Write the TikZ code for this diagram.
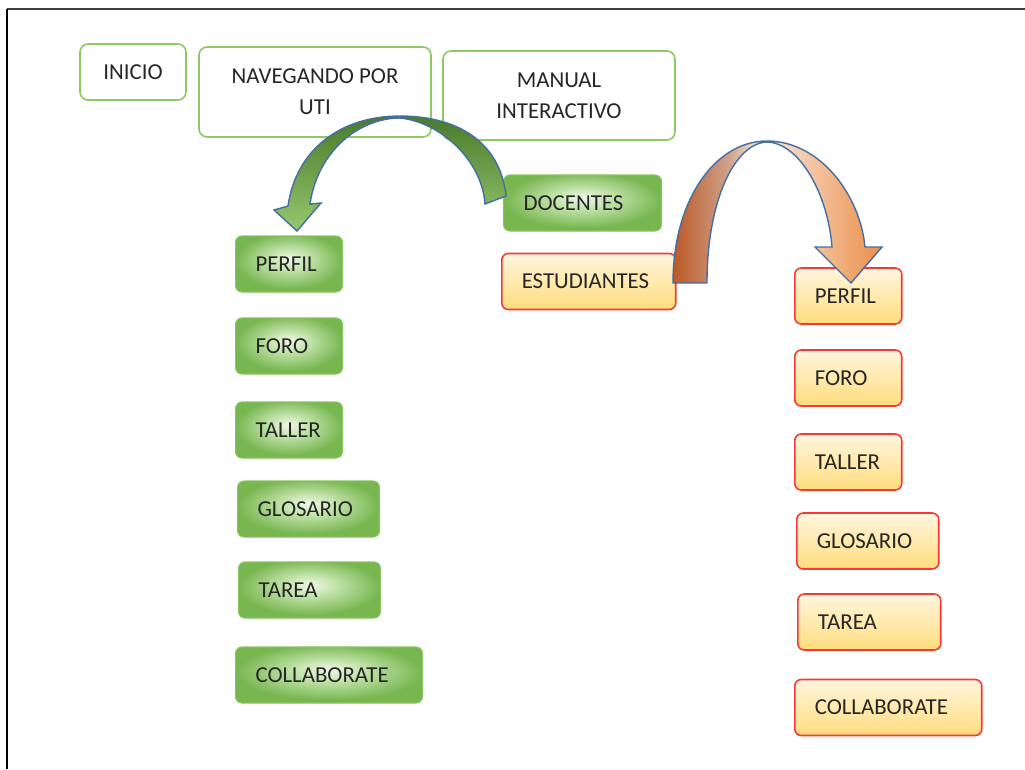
\documentclass[tikz,border=0pt]{standalone}
\usepackage{fontspec}
\setmainfont{Carlito}
\usepackage{tikz}
\usetikzlibrary{shapes, arrows.meta, positioning}

\definecolor{marco}{RGB}{60,60,60}
\definecolor{topverde}{RGB}{140,200,100}
\definecolor{gedge}{RGB}{120,182,80}
\definecolor{gmid}{RGB}{195,228,172}
\definecolor{gcenter}{RGB}{240,247,234}
\definecolor{gborde}{RGB}{135,195,95}
\definecolor{ytop}{RGB}{255,246,222}
\definecolor{ybot}{RGB}{255,220,125}
\definecolor{rborde}{RGB}{250,55,55}
\definecolor{flechaborde}{RGB}{70,110,160}
\definecolor{vosc}{RGB}{72,122,42}
\definecolor{vcla}{RGB}{150,200,110}
\definecolor{omarron}{RGB}{188,88,38}
\definecolor{omedio}{RGB}{205,160,135}
\definecolor{oclaro}{RGB}{248,236,228}
\definecolor{onaranja}{RGB}{236,142,72}

\pgfdeclareradialshading{gboxshade}{\pgfpoint{0bp}{5bp}}{color(0bp)=(gcenter); color(9bp)=(gmid); color(25bp)=(gedge); color(50bp)=(gedge)}
\pgfdeclarehorizontalshading{oshade}{100bp}{color(0bp)=(omarron); color(25bp)=(omarron); color(38bp)=(omedio); color(46bp)=(oclaro); color(75bp)=(onaranja); color(100bp)=(onaranja)}

\tikzset{
  texto/.style={font=\fontsize{13}{17.6}\selectfont, text=black!85},
  cabecera/.style={texto, draw=topverde, line width=0.9pt, rounded corners=0.16cm,
    fill=white, align=center},
  caja/.style={texto, anchor=west, rounded corners=0.13cm, minimum height=1.12cm,
    inner xsep=0.4cm, align=left, text width=#1cm},
  verde/.style={caja=#1, draw=gborde, line width=0.6pt, shading=gboxshade},
  amarilla/.style={caja=#1, draw=rborde, line width=0.9pt, top color=ytop, bottom color=ybot},
}

\begin{document}
\begin{tikzpicture}[x=0.02cm, y=-0.02cm]
    \useasboundingbox (0,0) rectangle (1025,769);

    % marco de la hoja
    \draw[line width=1.3pt, marco] (7,9) -- (1025,9);
    \draw[line width=1pt, black] (7,9) -- (7,769);

    % menu superior
    \node[cabecera, minimum width=2.12cm, minimum height=1.12cm] (inicio) at (133,72) {INICIO};
    \node[cabecera, minimum width=4.64cm, minimum height=1.8cm] (navega) at (315,92) {NAVEGANDO POR\\UTI};
    \node[cabecera, minimum width=4.64cm, minimum height=1.78cm] (manual) at (559,95.5) {MANUAL\\INTERACTIVO};

    % perfiles
    \node[verde=2.36] (docentes) at (503,203) {DOCENTES};
    \node[amarilla=2.68] (estudiantes) at (501,281.5) {ESTUDIANTES};

    % columna de docentes
    \node[verde=1.34] (dperfil) at (235,264) {PERFIL};
    \node[verde=1.34] (dforo) at (235,346) {FORO};
    \node[verde=1.34] (dtaller) at (235,430) {TALLER};
    \node[verde=2.04] (dglosario) at (237,509) {GLOSARIO};
    \node[verde=2.04] (dtarea) at (238,590) {TAREA};
    \node[verde=2.94] (dcollab) at (235,675) {COLLABORATE};

    % columna de estudiantes
    \node[amarilla=1.34] (eperfil) at (794,296) {PERFIL};
    \node[amarilla=1.34] (eforo) at (794,378) {FORO};
    \node[amarilla=1.34] (etaller) at (794,462) {TALLER};
    \node[amarilla=2.04] (eglosario) at (796,541) {GLOSARIO};
    \node[amarilla=2.06] (etarea) at (797,622) {TAREA};
    \node[amarilla=2.94] (ecollab) at (794,707.5) {COLLABORATE};

    % flecha curva verde (docentes)
    \draw[flechaborde, line width=0.8pt, top color=vosc, bottom color=vcla]
      (506,196) .. controls (500,140) and (455,116) .. (400,116)
      .. controls (340,116) and (296,150) .. (288,206)
      -- (274,210) -- (297,231) -- (321,203) -- (310,204)
      .. controls (318,150) and (360,118) .. (400,118)
      .. controls (440,122) and (482,160) .. (485,204) -- cycle;

    % flecha curva naranja (estudiantes)
    \draw[flechaborde, line width=0.8pt, shading=oshade]
      (673,283) .. controls (673,200) and (715,141) .. (767,141)
      .. controls (820,141) and (860,195) .. (865,247)
      -- (882,247) -- (851,283) -- (815,247) -- (832,247)
      .. controls (828,195) and (800,143) .. (767,142)
      .. controls (735,143) and (707,200) .. (707,283) -- cycle;
\end{tikzpicture}
\end{document}
